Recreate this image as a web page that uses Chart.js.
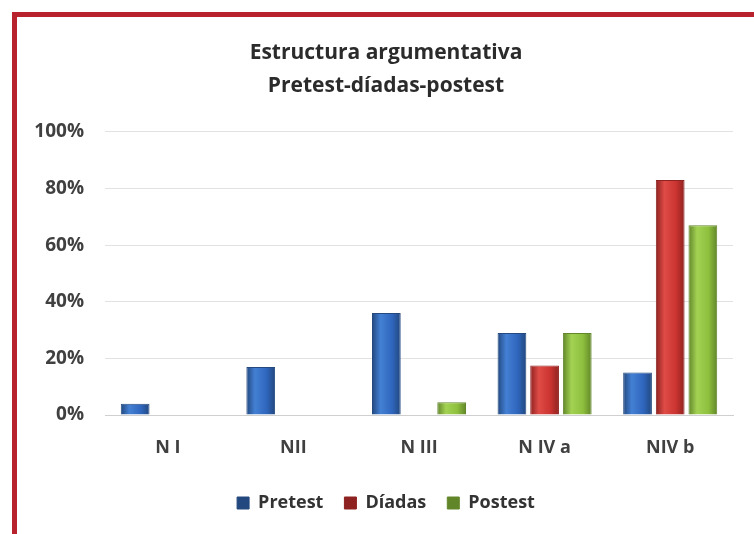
<!DOCTYPE html>
<html>
<head>
<meta charset="utf-8">
<script src="https://cdn.jsdelivr.net/npm/chart.js@4.4.0/dist/chart.umd.min.js"></script>
<style>
  html, body { margin: 0; padding: 0; background: #fff; width: 754px; height: 534px; overflow: hidden; }
  #frame { position: absolute; left: 12px; top: 12px; width: 800px; height: 600px;
           border-left: 5px solid #b8222c; border-top: 5px solid #b8222c; }
  #wrap { position: absolute; left: 0; top: 0; width: 754px; height: 534px; }
</style>
</head>
<body>
<div id="frame"></div>
<div id="wrap"><canvas id="chart" width="754" height="534"></canvas></div>
<script>
// Chart data (percentages)
const categories = ['N I', 'NII', 'N III', 'N IV a', 'NIV b'];
const pretest = [4, 17, 36, 29, 15];
const diadas = [0, 0, 0, 17.5, 83];
const postest = [0, 0, 4.5, 29, 67];
const yTicks = [0, 20, 40, 60, 80, 100];

const FONT = '"Open Sans", Lato, sans-serif';
const TEXT = '#404040';

// Horizontal gradient so the bars get the rounded 2007-Excel look
function barFill(base, light, edge) {
    return function(ctx) {
        const el = ctx.element;
        if (!el || !isFinite(el.x) || !el.width) return base;
        const g = ctx.chart.ctx.createLinearGradient(el.x - el.width / 2, 0, el.x + el.width / 2, 0);
        g.addColorStop(0, edge);
        g.addColorStop(0.3, light);
        g.addColorStop(0.7, base);
        g.addColorStop(1, edge);
        return g;
    };
}

// Title and legend are centred on the whole frame, not on the canvas
const frameCentre = {
    id: 'frameCentre',
    afterLayout(chart) {
        [chart.titleBlock, chart.legend].forEach(b => {
            if (b) { b.left = 39; b.width = b.right - b.left; }
        });
    }
};

const common = { barPercentage: 0.88, categoryPercentage: 0.78, borderWidth: 1 };

const chart = new Chart(document.getElementById('chart'), {
    type: 'bar',
    data: {
        labels: categories,
        datasets: [
            Object.assign({ label: 'Pretest', data: pretest,
                backgroundColor: barFill('#2f66bd', '#4380d4', '#22487f'), borderColor: '#24497f' }, common),
            Object.assign({ label: 'Díadas', data: diadas,
                backgroundColor: barFill('#cb3430', '#df4b46', '#8e2220'), borderColor: '#8e2321' }, common),
            Object.assign({ label: 'Postest', data: postest,
                backgroundColor: barFill('#8ebf3d', '#a3d252', '#61862a'), borderColor: '#62872b' }, common)
        ]
    },
    plugins: [frameCentre],
    options: {
        responsive: false,
        animation: false,
        layout: { padding: { left: 0, right: 21, top: 0, bottom: 12 } },
        plugins: {
            title: {
                display: true,
                text: ['Estructura argumentativa', 'Pretest-díadas-postest'],
                color: '#2b2b2b',
                font: { family: FONT, size: 21, weight: 'bold', lineHeight: 1.57 },
                padding: { top: 37, bottom: 29 }
            },
            legend: {
                position: 'bottom',
                labels: {
                    boxWidth: 12, boxHeight: 12, padding: 21, color: '#333',
                    font: { family: FONT, size: 18, weight: 'bold' }
                }
            },
            tooltip: { enabled: false }
        },
        scales: {
            x: {
                grid: { display: false, drawTicks: false },
                border: { display: true, color: '#cfcfcf' },
                ticks: { padding: 22, color: TEXT, font: { family: FONT, size: 18, weight: 'bold' } },
                afterFit: function(scale) { scale.height = 58; }
            },
            y: {
                min: 0, max: 100,
                afterBuildTicks: function(scale) { scale.ticks = yTicks.map(v => ({ value: v })); },
                grid: { color: '#e2e2e2', drawTicks: false },
                border: { display: false },
                ticks: { padding: 21, color: TEXT, callback: v => v + '%',
                         font: { family: FONT, size: 19, weight: 'bold' } },
                afterFit: function(scale) { scale.width = 105; }
            }
        }
    }
});

// second pass so the gradients know where each bar sits
chart.update();
</script>
</body>
</html>
